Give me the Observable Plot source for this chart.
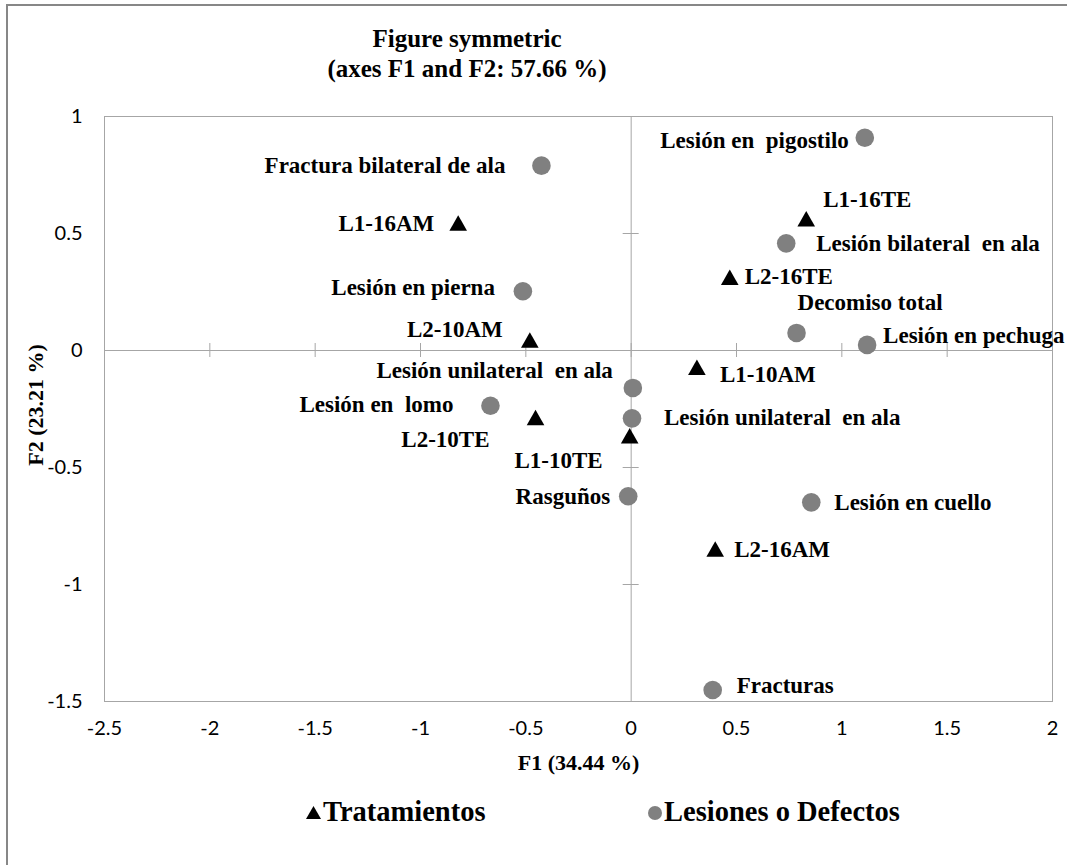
<!DOCTYPE html>
<html>
<head>
<meta charset="utf-8">
<script src="https://cdn.jsdelivr.net/npm/d3@7"></script>
<script src="https://cdn.jsdelivr.net/npm/@observablehq/plot@0.6"></script>
<style>
html, body { margin: 0; padding: 0; background: #fff; overflow: hidden; }
#wrap { position: relative; width: 1067px; height: 865px; overflow: hidden; background: #fff; }
#frame { position: absolute; left: 6px; top: 4px; width: 1200px; height: 1000px; border: 2px solid #878787; box-sizing: border-box; }
#title { position: absolute; left: 167px; width: 600px; top: 24px; text-align: center; font-family: "Liberation Serif", "Times New Roman", serif; font-weight: bold; font-size: 25px; line-height: 30px; color: #000; }
#chart { position: absolute; left: 0; top: 96px; }
#chart text { white-space: pre; }
.leg { position: absolute; top: 795px; font-family: "Liberation Serif", "Times New Roman", serif; font-weight: bold; font-size: 28.5px; line-height: 34px; color: #000; white-space: nowrap; display: flex; align-items: center; }
.leg svg { margin-right: 1px; }
</style>
</head>
<body>
<div id="wrap">
  <div id="frame"></div>
  <div id="title">Figure symmetric<br>(axes F1 and F2: 57.66 %)</div>
  <div id="chart"></div>
  <div class="leg" style="left:305px"><svg width="17" height="17"><path d="M8.5,2 L16,15 L1,15 Z" fill="#000"/></svg>Tratamientos</div>
  <div class="leg" style="left:647px"><svg width="16" height="16"><circle cx="8" cy="9" r="7" fill="#808080"/></svg>Lesiones o Defectos</div>
</div>
<script>
// ---- Data ----
const treatmentNames = ["L1-16AM", "L2-10AM", "L2-10TE", "L1-10TE", "L1-10AM", "L2-16AM", "L1-16TE", "L2-16TE"];
const treatmentF1 = [-0.821, -0.481, -0.454, -0.007, 0.312, 0.399, 0.831, 0.468];
const treatmentF2 = [0.545, 0.045, -0.286, -0.364, -0.072, -0.848, 0.563, 0.313];

const lesionNames = ["Lesión en  pigostilo", "Lesión bilateral  en ala", "Decomiso total", "Lesión en pechuga",
  "Lesión unilateral  en ala", "Lesión unilateral  en ala", "Fractura bilateral de ala", "Lesión en pierna",
  "Lesión en  lomo", "Rasguños", "Lesión en cuello", "Fracturas"];
const lesionF1 = [1.109, 0.736, 0.785, 1.120, 0.008, 0.004, -0.426, -0.514, -0.668, -0.014, 0.855, 0.387];
const lesionF2 = [0.909, 0.458, 0.075, 0.024, -0.160, -0.290, 0.790, 0.253, -0.236, -0.623, -0.649, -1.451];

const xTicks = [-2.5, -2, -1.5, -1, -0.5, 0, 0.5, 1, 1.5, 2];
const yTicks = [-1.5, -1, -0.5, 0, 0.5, 1];

// ---- Label placement (layout only) ----
const treatmentLabelPos = [["end", -24, 1], ["end", -27, -10], ["end", -46, 22], ["end", -27, 25],
  ["start", 23, 7], ["start", 19, 1], ["start", 17, -19], ["start", 15, -1]];
const lesionLabelPos = [["end", -16, 3], ["start", 30, 0], ["start", 1, -30], ["start", 16, -9],
  ["end", -20, -17], ["start", 32, -1], ["end", -36, 0], ["end", -28, -4],
  ["end", -37, -1], ["end", -18, 0], ["start", 23, 0], ["start", 24, -4]];

const treatments = treatmentNames.map((name, i) => ({name, f1: treatmentF1[i], f2: treatmentF2[i], pos: treatmentLabelPos[i]}));
const lesions = lesionNames.map((name, i) => ({name, f1: lesionF1[i], f2: lesionF2[i], pos: lesionLabelPos[i]}));

const triangle = {
  draw(ctx, size) {
    const r = Math.sqrt(size / Math.PI);
    const h = r * 0.88;
    ctx.moveTo(0, -h);
    ctx.lineTo(r, h);
    ctx.lineTo(-r, h);
    ctx.closePath();
  }
};

const serif = "Liberation Serif, Times New Roman, serif";
const axisColor = "#a6a6a6";
const fmt = d => String(d);

const labelMark = d => Plot.text([d], {
  x: "f1", y: "f2", text: "name",
  textAnchor: d.pos[0], dx: d.pos[1], dy: d.pos[2],
  fontFamily: serif, fontWeight: "bold", fontSize: 23, fill: "#000"
});

const chart = Plot.plot({
  width: 1067,
  height: 695,
  marginLeft: 104,
  marginRight: 15,
  marginTop: 20,
  marginBottom: 90,
  style: {fontFamily: "Lato, sans-serif", fontSize: "20px", color: "#000", background: "transparent", overflow: "visible"},
  x: {domain: [-2.5, 2]},
  y: {domain: [-1.5, 1]},
  marks: [
    Plot.frame({stroke: axisColor}),
    Plot.ruleX([0], {stroke: axisColor}),
    Plot.ruleY([0], {stroke: axisColor}),
    Plot.ruleX(xTicks, {x: d => d, y1: 0, y2: 0, insetTop: -7, insetBottom: -7, stroke: axisColor}),
    Plot.ruleY(yTicks, {y: d => d, x1: 0, x2: 0, insetLeft: -8, insetRight: -8, stroke: axisColor}),
    Plot.axisX(xTicks, {tickSize: 0, tickPadding: 19, tickFormat: fmt, label: null, fontSize: 20}),
    Plot.axisY(yTicks, {tickSize: 0, tickPadding: 22, tickFormat: fmt, label: null, fontSize: 20}),
    Plot.dot(lesions, {x: "f1", y: "f2", r: 9.3, fill: "#808080", stroke: "none"}),
    Plot.dot(treatments, {x: "f1", y: "f2", r: 8.8, symbol: triangle, fill: "#000", stroke: "none"}),
    ...lesions.map(labelMark),
    ...treatments.map(labelMark),
    Plot.text(["F2 (23.21 %)"], {frameAnchor: "left", textAnchor: "middle", dx: -69, dy: -4, rotate: -90, text: d => d,
      fontFamily: serif, fontWeight: "bold", fontSize: 22, fill: "#000"}),
    Plot.text(["F1 (34.44 %)"], {frameAnchor: "bottom", textAnchor: "middle", dy: 68, text: d => d,
      fontFamily: serif, fontWeight: "bold", fontSize: 22, fill: "#000"})
  ]
});
document.getElementById("chart").appendChild(chart);
</script>
</body>
</html>
